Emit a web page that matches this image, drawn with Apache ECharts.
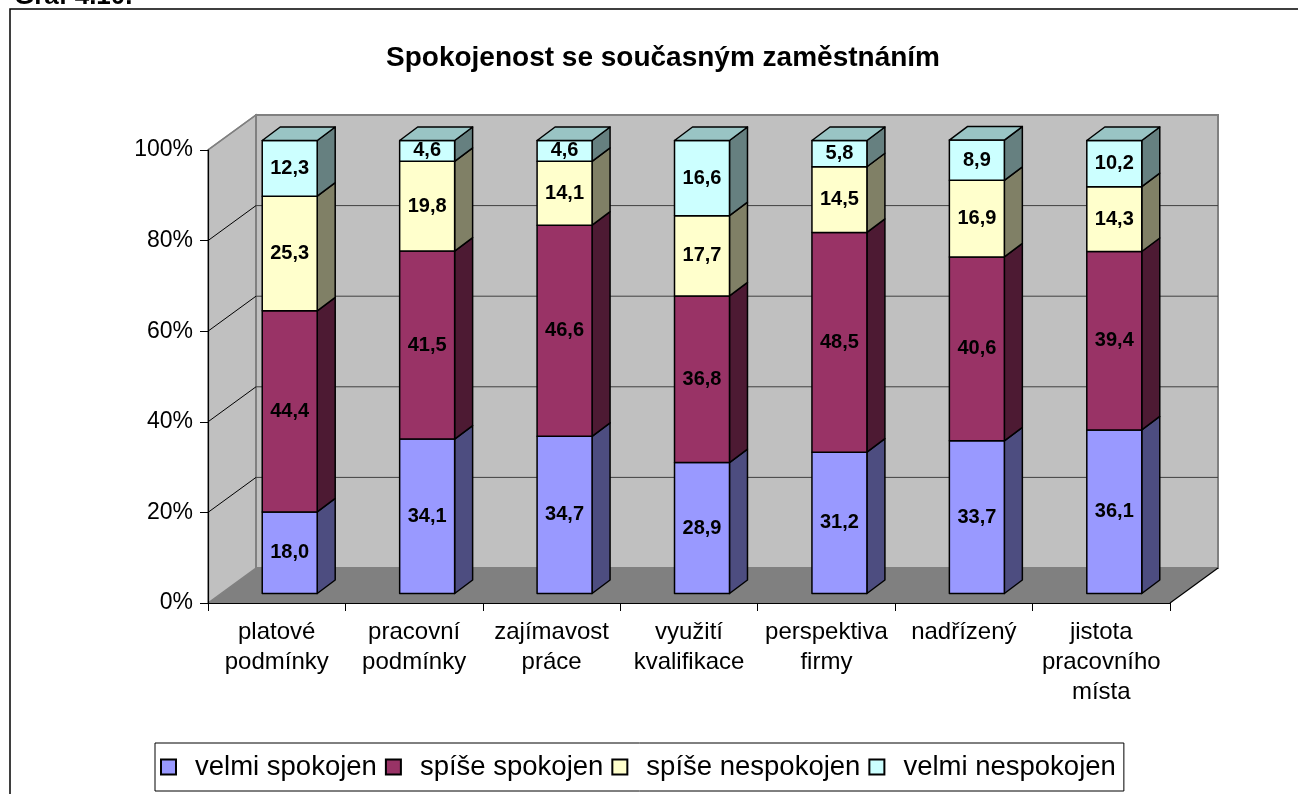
<!DOCTYPE html>
<html>
<head>
<meta charset="utf-8">
<script src="https://cdn.jsdelivr.net/npm/echarts@6/dist/echarts.min.js"></script>
<style>
  html, body { margin: 0; padding: 0; background: #fff; }
  #chart { width: 1298px; height: 794px; }
</style>
</head>
<body>
<div id="chart"></div>
<script>
const categories = ['platové\npodmínky', 'pracovní\npodmínky', 'zajímavost\npráce', 'využití\nkvalifikace',
  'perspektiva\nfirmy', 'nadřízený', 'jistota\npracovního\nmísta'];
const velmiSpokojen = [18.0, 34.1, 34.7, 28.9, 31.2, 33.7, 36.1];
const spiseSpokojen = [44.4, 41.5, 46.6, 36.8, 48.5, 40.6, 39.4];
const spiseNespokojen = [25.3, 19.8, 14.1, 17.7, 14.5, 16.9, 14.3];
const velmiNespokojen = [12.3, 4.6, 4.6, 16.6, 5.8, 8.9, 10.2];
const yTicks = [0, 20, 40, 60, 80, 100];

const seriesDefs = [
  { name: 'velmi spokojen', values: velmiSpokojen, front: '#9999ff', side: '#4d4d80' },
  { name: 'spíše spokojen', values: spiseSpokojen, front: '#993366', side: '#4d1a33' },
  { name: 'spíše nespokojen', values: spiseNespokojen, front: '#ffffcc', side: '#808066' },
  { name: 'velmi nespokojen', values: velmiNespokojen, front: '#ccffff', side: '#668080', top: '#99c4c4' }
];

const FONT = 'Liberation Sans, Arial, sans-serif';
// depth of the walls, offset of the bar front and bar depth (pixels)
const DX = 48, DY = -35;
const OX = 13, OY = -9.5;
const BX = 18, BY = -13.5;

const chart = echarts.init(document.getElementById('chart'));

function renderWalls(params, api) {
  const w = api.size([1, 0])[0];
  const c0 = api.coord([0, 0]);
  const xl = c0[0] - w / 2;
  const xr = xl + w * categories.length;
  const yb = c0[1];
  const yt = api.coord([0, 100])[1];
  const children = [
    { type: 'polygon', shape: { points: [[xl, yb], [xr, yb], [xr + DX, yb + DY], [xl + DX, yb + DY]] },
      style: { fill: '#808080' } },
    { type: 'polygon', shape: { points: [[xl, yb], [xl + DX, yb + DY], [xl + DX, yt + DY], [xl, yt]] },
      style: { fill: '#c0c0c0', stroke: '#808080', lineWidth: 1.5 } },
    { type: 'rect', shape: { x: xl + DX, y: yt + DY, width: xr - xl, height: yb - yt },
      style: { fill: '#c0c0c0', stroke: '#808080', lineWidth: 2 } }
  ];
  yTicks.forEach(v => {
    const y = api.coord([0, v])[1];
    if (v > 0 && v < 100) {
      children.push({ type: 'line', shape: { x1: xl + DX, y1: y + DY, x2: xr + DX, y2: y + DY },
        style: { stroke: '#404040', lineWidth: 1 } });
    }
    if (v > 0) {
      children.push({ type: 'line', shape: { x1: xl, y1: y, x2: xl + DX, y2: y + DY },
        style: { stroke: v === 100 ? '#808080' : '#000', lineWidth: v === 100 ? 1.5 : 1 } });
    }
  });
  children.push({ type: 'line', shape: { x1: xr, y1: yb, x2: xr + DX, y2: yb + DY },
    style: { stroke: '#000', lineWidth: 1.2 } });
  return { type: 'group', children };
}

function makeRender(def, isTop) {
  return function (params, api) {
    const cat = api.value(0);
    const val = api.value(1);
    const base = api.value(2);
    const w = api.size([1, 0])[0];
    const bw = w * 0.4;
    const a = api.coord([cat, base]);
    const b = api.coord([cat, base + val]);
    const x0 = a[0] - bw / 2 + OX;
    const x1 = x0 + bw;
    const yBot = a[1] + OY;
    const yTop = b[1] + OY;
    const edge = { stroke: '#000', lineWidth: 1.5, lineJoin: 'round' };
    const children = [
      { type: 'polygon', shape: { points: [[x1, yTop], [x1 + BX, yTop + BY], [x1 + BX, yBot + BY], [x1, yBot]] },
        style: Object.assign({ fill: def.side }, edge) },
      { type: 'rect', shape: { x: x0, y: yTop, width: bw, height: yBot - yTop },
        style: Object.assign({ fill: def.front }, edge) }
    ];
    if (isTop) {
      children.push({ type: 'polygon', shape: { points: [[x0, yTop], [x0 + BX, yTop + BY], [x1 + BX, yTop + BY], [x1, yTop]] },
        style: Object.assign({ fill: def.top }, edge) });
    }
    children.push({ type: 'text', style: {
      text: val.toFixed(1).replace('.', ','), x: (x0 + x1) / 2, y: (yTop + yBot) / 2,
      align: 'center', verticalAlign: 'middle', fill: '#000',
      fontSize: 20, fontWeight: 'bold', fontFamily: FONT } });
    return { type: 'group', children };
  };
}

const bases = categories.map(() => 0);
const dataSeries = seriesDefs.map((def, si) => {
  const data = def.values.map((v, i) => {
    const item = [i, v, bases[i]];
    bases[i] += v;
    return item;
  });
  return {
    name: def.name,
    type: 'custom',
    renderItem: makeRender(def, si === seriesDefs.length - 1),
    itemStyle: { color: def.front, borderColor: '#000', borderWidth: 1 },
    data: data,
    z: 3
  };
});

const option = {
  animation: false,
  title: {
    text: 'Spokojenost se současným zaměstnáním',
    left: 658,
    top: 39,
    textAlign: 'center',
    textStyle: { fontFamily: FONT, fontSize: 28, fontWeight: 'bold', color: '#000' }
  },
  graphic: [
    { type: 'rect', shape: { x: 10, y: 9, width: 1400, height: 900 },
      style: { fill: 'none', stroke: '#000', lineWidth: 1.5 }, z: -10 },
    { type: 'text', left: 14, top: -16,
      style: { text: 'Graf 4.10.', fontFamily: FONT, fontSize: 26, fontWeight: 'bold', fill: '#000' } }
  ],
  legend: {
    data: seriesDefs.map(d => d.name),
    left: 155,
    top: 743,
    padding: [10, 8, 10, 5],
    itemGap: 8,
    itemWidth: 15,
    itemHeight: 15,
    icon: 'rect',
    borderColor: '#000',
    borderWidth: 1,
    textStyle: { fontFamily: FONT, fontSize: 27.5, color: '#000', padding: [0, 0, 0, 14] }
  },
  grid: { left: 208, right: 128, top: 150, bottom: 191 },
  xAxis: {
    type: 'category',
    data: categories,
    z: 10,
    axisLine: { lineStyle: { color: '#000', width: 1.2 } },
    axisTick: { show: true, length: 8, lineStyle: { color: '#000' } },
    axisLabel: { interval: 0, margin: 14, fontFamily: FONT, fontSize: 24, lineHeight: 30, color: '#000' },
    splitLine: { show: false }
  },
  yAxis: {
    type: 'value',
    min: 0,
    max: 100,
    interval: 20,
    z: 10,
    axisLine: { show: true, lineStyle: { color: '#000', width: 1.2 } },
    axisTick: { show: true, length: 8, lineStyle: { color: '#000' } },
    axisLabel: { margin: 15, formatter: '{value}%', fontFamily: FONT, fontSize: 23, color: '#000' },
    splitLine: { show: false }
  },
  series: [
    { name: 'walls', type: 'custom', renderItem: renderWalls, data: [[0, 0]], z: 1, silent: true }
  ].concat(dataSeries)
};

chart.setOption(option);
</script>
</body>
</html>
